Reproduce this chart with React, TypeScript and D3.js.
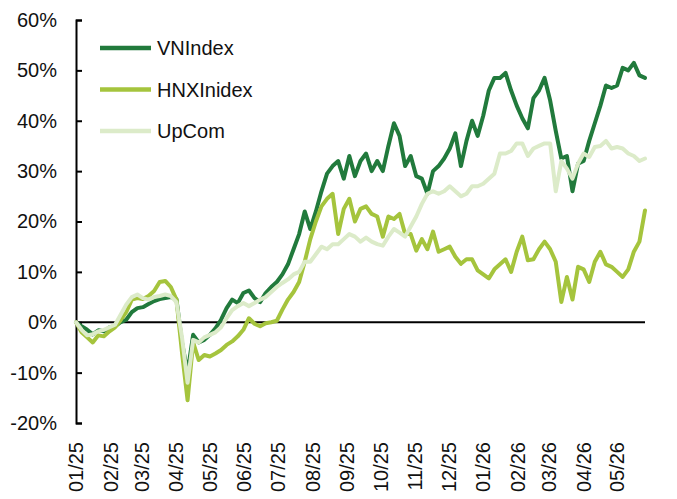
import * as d3 from 'd3';
import { useEffect, useRef } from 'react';

// values in %, one reading every 5 calendar days starting 2025-01-01
const vnIndex = [
  0, -0.8, -1.5, -2.4, -1.6, -1.8, -1.0, -0.8, 0, 0.5,
  2.0, 2.8, 3.0, 3.6, 4.2, 4.6, 4.8, 5.0, 4.6, -4,
  -10, -2.5, -4, -3.5, -2.5, -1.2, 0.5, 2.8, 4.5, 3.8,
  5.8, 6.3, 4.8, 4.0, 5.8, 7.0, 8.0, 9.5, 11.5, 14.5,
  17.5, 22, 18.5, 22, 26, 29.5, 31, 32, 28.5, 33,
  29, 32, 33.5, 30, 32, 30, 35, 39.5, 37, 31,
  33, 29, 28.5, 25.5, 30, 31, 32.5, 34.5, 37.5, 31,
  36, 40, 37, 41, 46, 48.5, 48.5, 49.5, 46, 43,
  40.5, 38.5, 44.5, 46, 48.5, 44, 38, 32.5, 33, 26,
  31.5, 32, 36, 39.5, 43, 47, 46.5, 47, 50.5, 50,
  51.5, 49, 48.5,
];

const hnxIndex = [
  0, -2, -3, -4, -2.6, -2.8, -1.8, -1, 0.4, 2,
  4.5, 4.8, 4.6, 5.2, 6.2, 8, 8.2, 7, 4.5, -6,
  -15.5, -4, -7.5, -6.5, -6.8, -6.2, -5.5, -4.5, -3.8, -2.8,
  -1.5, 0.8, -0.3, -0.8, -0.2, 0, 0.3, 2.5, 4.5, 6,
  8, 12, 16.5, 20, 23, 24.5, 25.5, 17.5, 22.5, 24.5,
  20, 22.5, 23, 21.5, 21, 17, 21, 20.5, 21.5, 17.5,
  17.5, 14.2, 16.5, 14.5, 18, 14, 14.5, 15, 13, 11.6,
  12.5, 12.5, 10.3, 9.5, 8.7, 10.5, 11.5, 12.5, 10, 14,
  17, 12.3, 12.5, 14.5, 16, 14.5, 12, 4, 9, 4.5,
  11, 10.5, 8, 12, 14, 11.5, 11, 10, 9, 10.5,
  14, 16, 22.2,
];

const upCom = [
  0, -1.5, -2.6, -2.4, -1.8, -1.5, -1.0, -0.5, 1.5, 3.5,
  5, 5.5, 4.8, 4.5, 5, 5.2, 5.5, 5.2, 4, -3,
  -12, -3.5, -4, -3, -2.5, -2, -1, 0.8, 2.4, 3.2,
  3.8, 3.2, 3.8, 4.5, 5, 6, 7, 7.8, 8.5, 9.5,
  10, 12, 12, 13.5, 15, 14.5, 15.5, 15.5, 16.5, 17.5,
  17, 16, 16.8, 16, 15.5, 15.2, 17, 18.5, 17.8, 17,
  19, 21, 23.5, 25.5, 26, 25.5, 26, 27, 26, 25,
  25.5, 27, 27, 27.5, 28.5, 29.5, 33.5, 33.5, 34, 35.5,
  35.5, 33, 34.5, 35, 35.5, 35.5, 26, 32, 30.5, 28.5,
  31.5, 33.5, 32.8, 34.8, 35, 36, 34.5, 34.8, 34.5, 33.5,
  33, 32, 32.5,
];

const monthLabels = [
  '01/25', '02/25', '03/25', '04/25', '05/25', '06/25', '07/25', '08/25', '09/25',
  '10/25', '11/25', '12/25', '01/26', '02/26', '03/26', '04/26', '05/26',
];

const yTicks = [-20, -10, 0, 10, 20, 30, 40, 50, 60];

const seriesNames = ['VNIndex', 'HNXInidex', 'UpCom'];
const seriesColors = ['#217a3c', '#a5c43d', '#dcebc9'];

const startDate = new Date(2025, 0, 1);
const stepDays = 5;

const FONT = '"Liberation Sans", Arial, sans-serif';

export default function App() {
  const ref = useRef<SVGSVGElement>(null);

  useEffect(() => {
    const width = 677;
    const height = 499;
    const svg = d3.select(ref.current);
    svg.selectAll('*').remove();
    svg.attr('width', width).attr('height', height);

    const dates = vnIndex.map((_, i) => d3.timeDay.offset(startDate, i * stepDays));

    const x = d3.scaleTime()
      .domain([dates[0], dates[dates.length - 1]])
      .range([76, 645]);

    const y = d3.scaleLinear()
      .domain([-20, 60])
      .range([423, 20]);

    // y axis, ticks pointing into the plot
    const yAxis = svg.append('g')
      .attr('transform', 'translate(76,0)')
      .call(
        d3.axisLeft(y)
          .tickValues(yTicks)
          .tickSizeInner(-6)
          .tickSizeOuter(-6)
          .tickPadding(19)
          .tickFormat(d => `${d}%`)
      );
    yAxis.selectAll('path, line').attr('stroke', '#000').attr('stroke-width', 2);
    yAxis.selectAll('text')
      .attr('fill', '#111')
      .style('font-family', FONT)
      .style('font-size', '20px');

    // month labels, rotated
    const parseMonth = d3.timeParse('%m/%y');
    svg.append('g')
      .selectAll('text')
      .data(monthLabels)
      .enter()
      .append('text')
      .attr('transform', d => `translate(${x(parseMonth(d) as Date)},442) rotate(-90)`)
      .attr('text-anchor', 'end')
      .attr('dy', '0.35em')
      .attr('fill', '#111')
      .style('font-family', FONT)
      .style('font-size', '20px')
      .text(d => d);

    // zero line
    svg.append('line')
      .attr('x1', x(dates[0]))
      .attr('x2', x(dates[dates.length - 1]))
      .attr('y1', y(0))
      .attr('y2', y(0))
      .attr('stroke', '#000')
      .attr('stroke-width', 2);

    const line = d3.line<number>()
      .x((_, i) => x(dates[i]))
      .y(d => y(d));

    [vnIndex, hnxIndex, upCom].forEach((values, k) => {
      svg.append('path')
        .datum(values)
        .attr('d', line)
        .attr('fill', 'none')
        .attr('stroke', seriesColors[k])
        .attr('stroke-width', 4)
        .attr('stroke-linejoin', 'round')
        .attr('stroke-linecap', 'round');
    });

    // legend
    const legend = svg.append('g');
    seriesNames.forEach((name, k) => {
      const ly = 48 + k * 41.5;
      legend.append('line')
        .attr('x1', 100).attr('x2', 151)
        .attr('y1', ly).attr('y2', ly)
        .attr('stroke', seriesColors[k])
        .attr('stroke-width', 4.5);
      legend.append('text')
        .attr('x', 157)
        .attr('y', ly)
        .attr('dy', '0.35em')
        .attr('fill', '#111')
        .style('font-family', FONT)
        .style('font-size', '20px')
        .text(name);
    });

    return () => {
      svg.selectAll('*').remove();
    };
  }, []);

  return <svg ref={ref} style={{ position: 'absolute', left: 0, top: 0 }} />;
}
